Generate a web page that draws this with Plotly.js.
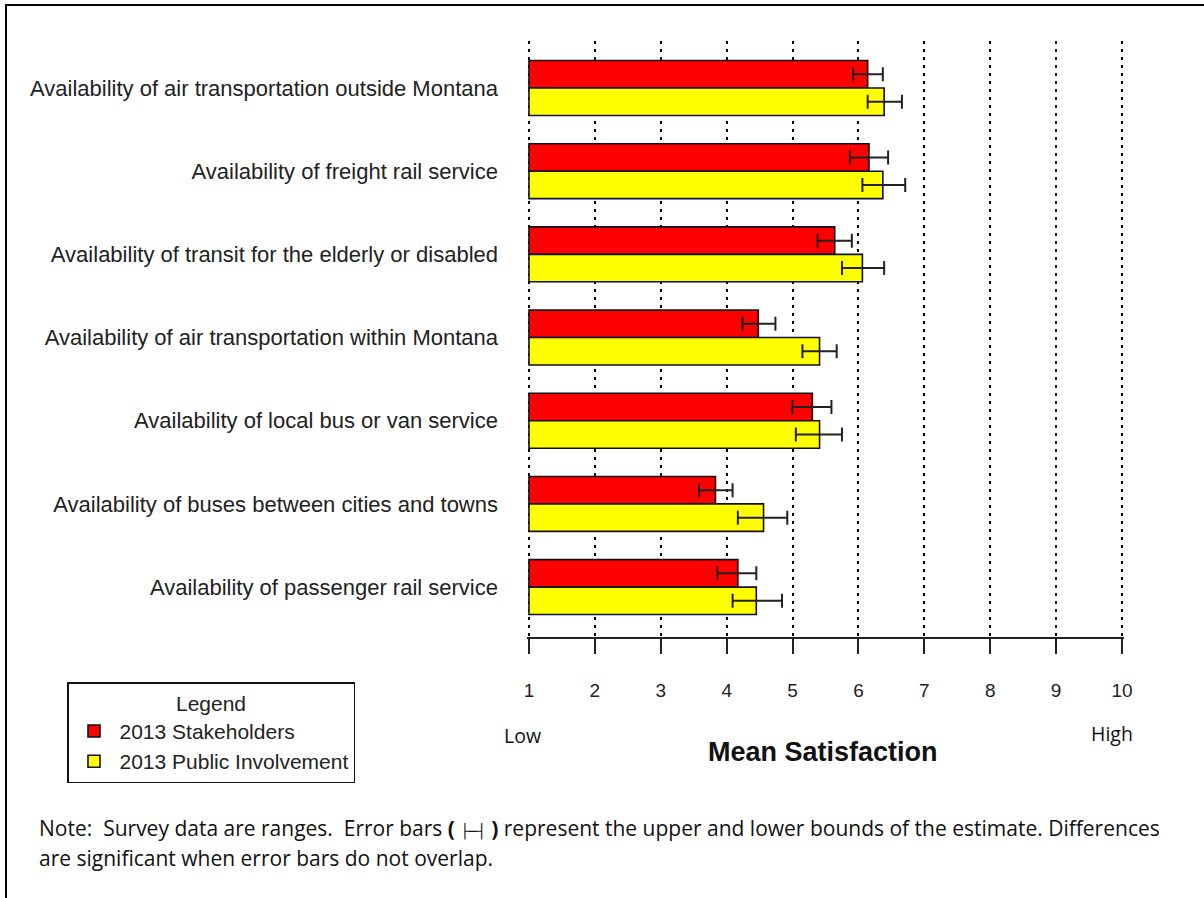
<!DOCTYPE html>
<html>
<head>
<meta charset="utf-8">
<script src="https://cdn.plot.ly/plotly-3.0.1.min.js"></script>
<style>
  html, body { margin: 0; padding: 0; background: #fff; }
  #wrap { position: relative; width: 1204px; height: 898px; overflow: hidden; }
  #chart { position: absolute; left: 0; top: 0; width: 1204px; height: 898px; }
  #frame { position: absolute; left: 5px; top: 4px; width: 1300px; height: 1000px;
           border-left: 2px solid #000; border-top: 2px solid #000; pointer-events: none; }
</style>
</head>
<body>
<div id="wrap">
  <div id="chart"></div>
  <div id="frame"></div>
</div>
<script>
// ---- data (top to bottom) ----
const categories = [
  "Availability of air transportation outside Montana",
  "Availability of freight rail service",
  "Availability of transit for the elderly or disabled",
  "Availability of air transportation within Montana",
  "Availability of local bus or van service",
  "Availability of buses between cities and towns",
  "Availability of passenger rail service"
];
const stakeholdersMean  = [6.14, 6.16, 5.64, 4.48, 5.30, 3.83, 4.17];
const stakeholdersLower = [5.92, 5.87, 5.38, 4.24, 5.00, 3.58, 3.86];
const stakeholdersUpper = [6.37, 6.45, 5.90, 4.74, 5.59, 4.09, 4.45];
const publicMean  = [6.39, 6.37, 6.06, 5.41, 5.41, 4.56, 4.45];
const publicLower = [6.14, 6.06, 5.75, 5.15, 5.05, 4.17, 4.09];
const publicUpper = [6.66, 6.71, 6.39, 5.67, 5.75, 4.92, 4.84];
const xTicks = [1, 2, 3, 4, 5, 6, 7, 8, 9, 10];
const scaleBase = 1;

// ---- layout geometry ----
const W = 1204, H = 898;
const M = { l: 527, r: 80, t: 41, b: 261 };
const pw = W - M.l - M.r, ph = H - M.t - M.b;
const px = x => (x - M.l) / pw;           // pixel -> paper x
const py = y => (H - M.b - y) / ph;       // pixel -> paper y

function barTrace(name, mean, lower, upper, color) {
  return {
    type: 'bar', orientation: 'h', name: name,
    y: categories,
    x: mean.map(v => v - scaleBase),
    base: scaleBase,
    marker: { color: color, line: { color: '#111', width: 1.6 } },
    error_x: {
      type: 'data', symmetric: false,
      array: upper.map((u, i) => u - mean[i]),
      arrayminus: mean.map((m, i) => m - lower[i]),
      color: '#222', thickness: 2, width: 7
    },
    hoverinfo: 'skip'
  };
}

const data = [
  barTrace('2013 Stakeholders', stakeholdersMean, stakeholdersLower, stakeholdersUpper, '#ff0000'),
  barTrace('2013 Public Involvement', publicMean, publicLower, publicUpper, '#ffff00')
];

const noteFont = { family: '"Open Sans", Lato, sans-serif', size: 21, color: '#111' };

const layout = {
  width: W, height: H,
  margin: M,
  paper_bgcolor: '#fff', plot_bgcolor: '#fff',
  barmode: 'group', bargap: 0.34, bargroupgap: 0,
  font: { family: '"Liberation Sans", Arial, sans-serif', size: 18, color: '#222' },
  showlegend: true,
  legend: {
    xref: 'container', yref: 'container',
    x: 67 / W, y: 1 - 682 / H, xanchor: 'left', yanchor: 'top',
    bgcolor: '#fff', bordercolor: '#111', borderwidth: 1.5,
    title: { text: 'Legend', side: 'top center', font: { size: 21, color: '#222' } },
    font: { size: 21, color: '#222' },
    itemwidth: 41,
    traceorder: 'normal', itemclick: false
  },
  xaxis: {
    range: [0.97, 10.03],
    tickvals: xTicks, ticktext: xTicks.map(String),
    showgrid: true, gridcolor: '#000', gridwidth: 2, griddash: '3px,5px',
    zeroline: false,
    showline: true, linecolor: '#222', linewidth: 2,
    ticks: 'outside', ticklen: 15, tickwidth: 2, tickcolor: '#222',
    ticklabelstandoff: 20,
    tickfont: { family: '"Liberation Sans Narrow", "Liberation Sans", Arial, sans-serif', size: 19, color: '#222' },
    fixedrange: true
  },
  yaxis: {
    type: 'category',
    categoryorder: 'array', categoryarray: categories,
    range: [6.60, -0.565],
    showgrid: false, zeroline: false, showline: false,
    ticks: '', ticklabelstandoff: 28,
    tickfont: { family: '"Liberation Sans", Arial, sans-serif', size: 22, color: '#222' },
    fixedrange: true
  },
  annotations: [
    { xref: 'paper', yref: 'paper', x: px(522), y: py(735), text: 'Low', showarrow: false,
      xanchor: 'center', yanchor: 'middle', font: { family: noteFont.family, size: 19.5, color: '#111' } },
    { xref: 'paper', yref: 'paper', x: px(1112), y: py(733), text: 'High', showarrow: false,
      xanchor: 'center', yanchor: 'middle', font: { family: noteFont.family, size: 19.5, color: '#111' } },
    { xref: 'paper', yref: 'paper', x: px(823), y: py(752), text: '<b>Mean Satisfaction</b>', showarrow: false,
      xanchor: 'center', yanchor: 'middle',
      font: { family: '"Liberation Sans Narrow", "Liberation Sans", Arial, sans-serif', size: 27, color: '#111' } },
    { xref: 'paper', yref: 'paper', x: px(37), y: py(828), xanchor: 'left', yanchor: 'middle', showarrow: false,
      align: 'left', font: noteFont,
      text: 'Note:  Survey data are ranges.  Error bars <b>(</b> <span style="font-family:DejaVu Sans Mono;font-size:14px">├─┤</span> <b>)</b> represent the upper and lower bounds of the estimate. Differences' },
    { xref: 'paper', yref: 'paper', x: px(37), y: py(858), xanchor: 'left', yanchor: 'middle', showarrow: false,
      align: 'left', font: noteFont,
      text: 'are significant when error bars do not overlap.' }
  ]
};

Plotly.newPlot('chart', data, layout, { displayModeBar: false, staticPlot: true });
</script>
</body>
</html>
